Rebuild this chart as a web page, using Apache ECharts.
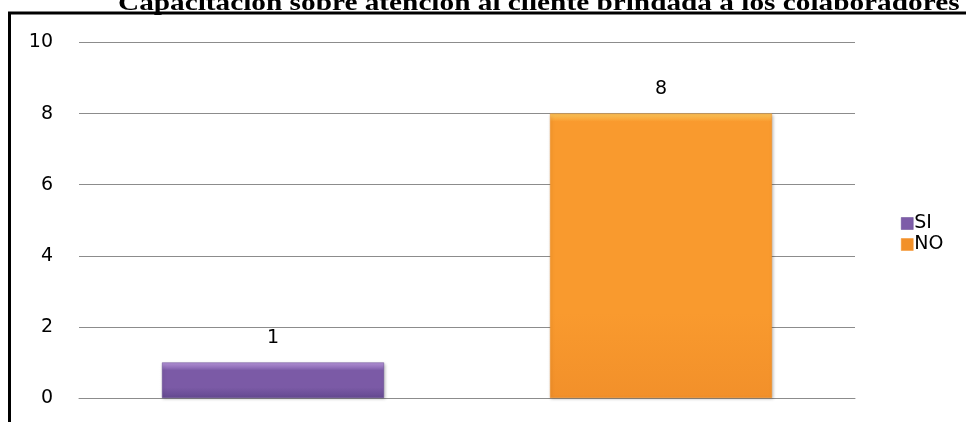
<!DOCTYPE html>
<html>
<head>
<meta charset="utf-8">
<script src="https://cdn.jsdelivr.net/npm/echarts@6/dist/echarts.min.js"></script>
<style>
  html, body { margin: 0; padding: 0; background: #fff; }
  #chart { width: 966px; height: 422px; }
</style>
</head>
<body>
<div id="chart"></div>
<script>
// Survey answers and their counts
const categories = ['SI', 'NO'];
const values = [1, 8];
const yTicks = { min: 0, max: 10, interval: 2 };
const titleText = 'Capacitación sobre atención al cliente brindada a los colaboradores';

// Fill style per answer: bevel-like vertical gradient
const fills = {
  SI: { main: '#7b5aa6', light: '#b896dc', dark: '#644990', legend: '#7d5ca8' },
  NO: { main: '#f99a2e', light: '#fdc85c', dark: '#f2902a', legend: '#f29028' }
};

function barFill(name, value) {
  const f = fills[name];
  const bevel = Math.min(0.3, 8 / (value * 35.6));
  return new echarts.graphic.LinearGradient(0, 0, 0, 1, [
    { offset: 0, color: f.light },
    { offset: bevel, color: f.main },
    { offset: 0.7, color: f.main },
    { offset: 1, color: f.dark }
  ]);
}

const textFont = 'DejaVu Sans';

const chart = echarts.init(document.getElementById('chart'), null, { renderer: 'canvas' });

const series = categories.map((name, i) => ({
  name: name,
  type: 'bar',
  stack: 'answers',
  barWidth: 222,
  data: categories.map((_, j) => (j === i ? values[i] : '-')),
  itemStyle: {
    color: barFill(name, values[i]),
    borderColor: fills[name].dark,
    borderWidth: 0.5,
    shadowColor: 'rgba(0,0,0,0.25)',
    shadowBlur: 3,
    shadowOffsetX: 1,
    shadowOffsetY: 1
  },
  label: {
    show: true,
    position: 'top',
    distance: 15,
    color: '#000',
    fontFamily: textFont,
    fontSize: 19
  }
}));

chart.setOption({
  animation: false,
  backgroundColor: '#fff',
  graphic: [
    {
      type: 'text',
      x: 118,
      y: -8,
      scaleX: 1.22,
      style: {
        text: titleText,
        fontFamily: 'Liberation Serif',
        fontWeight: 'bold',
        fontSize: 24,
        fill: '#000'
      }
    },
    {
      type: 'line',
      shape: { x1: 8, y1: 13, x2: 966, y2: 13 },
      style: { stroke: '#000', lineWidth: 3 }
    },
    {
      type: 'line',
      shape: { x1: 9.5, y1: 12, x2: 9.5, y2: 422 },
      style: { stroke: '#000', lineWidth: 3 }
    }
  ],
  legend: {
    orient: 'vertical',
    left: 896,
    top: 209,
    itemWidth: 12,
    itemHeight: 12,
    itemGap: 2,
    icon: 'rect',
    textStyle: { fontFamily: textFont, fontSize: 19, color: '#000', padding: [0, 0, 0, -4] },
    data: categories.map(name => ({
      name: name,
      itemStyle: { color: fills[name].legend, borderColor: fills[name].dark, borderWidth: 0.5 }
    }))
  },
  grid: { left: 79, right: 111, top: 42.5, bottom: 24, containLabel: false },
  xAxis: {
    type: 'category',
    data: categories,
    axisLine: { show: true, lineStyle: { color: '#8c8c8c', width: 1 } },
    axisTick: { show: false },
    axisLabel: { show: false }
  },
  yAxis: {
    type: 'value',
    min: yTicks.min,
    max: yTicks.max,
    interval: yTicks.interval,
    axisLine: { show: false },
    axisTick: { show: false },
    axisLabel: { margin: 26, color: '#000', fontFamily: textFont, fontSize: 19 },
    splitLine: { lineStyle: { color: '#8c8c8c', width: 1 } }
  },
  series: series
});
</script>
</body>
</html>
